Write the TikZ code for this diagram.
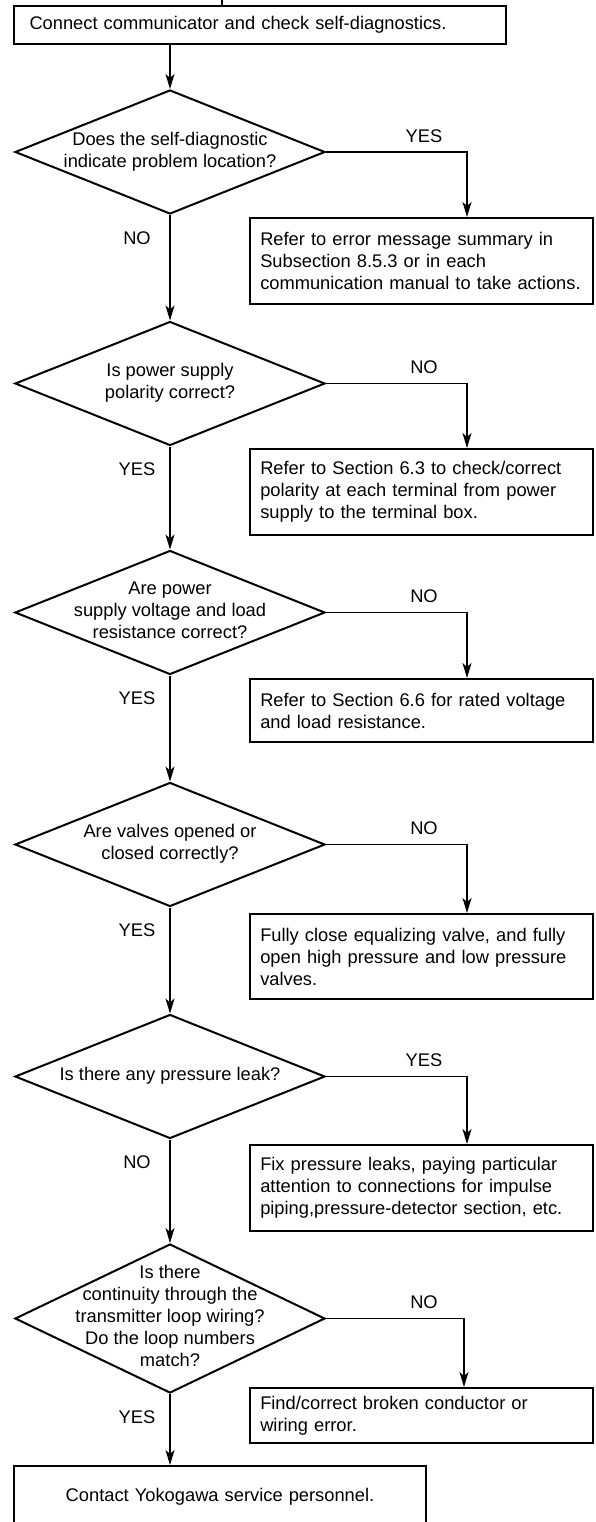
\documentclass[tikz,border=0pt]{standalone}
\usepackage{fontspec}
\setmainfont{Liberation Sans}
\usetikzlibrary{shapes.geometric,arrows.meta}
\newcommand{\dtxt}[1]{\makebox[0pt]{\begin{tabular}{@{}c@{}}#1\end{tabular}}}
\begin{document}
\begin{tikzpicture}[x=1pt, y=1pt, font=\fontsize{18.3}{22}\selectfont,
  >={Stealth[length=15pt,width=9pt,inset=4pt]},
  box/.style={draw, line width=2pt, anchor=north west, inner ysep=0pt},
  act/.style={box, text width=322pt, inner xsep=10.75pt, minimum height=86pt, align=left},
  ask/.style={draw, line width=2pt, diamond, minimum width=310pt, minimum height=124pt, inner sep=0pt},
  flow/.style={->, line width=1.1pt},
  lbl/.style={inner sep=0pt}]
\def \xc{170}
\def \xl{248.5}
\useasboundingbox (0,0) rectangle (595,-1522);
\coordinate (above) at (222,3);
\coordinate (drop) at (467,0);
\coordinate (dropb) at (464,0);
\node[box, text width=461pt, inner xsep=15.5pt, minimum height=38pt, align=left] (start) at (13,-5) {Connect communicator and check self-diagnostics.};
\node[ask] (d1) at (\xc,-152) {\dtxt{Does the self-diagnostic\\indicate problem location?}};
\node[act] (r1) at (\xl,-217) {Refer to error message summary in\\Subsection 8.5.3 or in each\\\mbox{communication manual to take actions.}};
\node[ask] (d2) at (\xc,-383.5) {\dtxt{Is power supply\\polarity correct?}};
\node[act] (r2) at (\xl,-448) {Refer to Section 6.3 to check/correct\\polarity at each terminal from power\\supply to the terminal box.};
\node[ask] (d3) at (\xc,-612.5) {\dtxt{Are power\\supply voltage and load\\resistance correct?}};
\node[act, minimum height=63pt] (r3) at (\xl,-678) {Refer to Section 6.6 for rated voltage\\and load resistance.};
\node[ask] (d4) at (\xc,-844.5) {\dtxt{Are valves opened or\\closed correctly?}};
\node[act, minimum height=85pt] (r4) at (\xl,-913) {Fully close equalizing valve, and fully\\open high pressure and low pressure\\valves.};
\node[ask] (d5) at (\xc,-1076.5) {\dtxt{Is there any pressure leak?}};
\node[act] (r5) at (\xl,-1144) {Fix pressure leaks, paying particular\\attention to connections for impulse\\piping,pressure-detector section, etc.};
\node[ask, minimum height=149pt] (d6) at (\xc,-1318.5) {\dtxt{Is there\\continuity through the\\transmitter loop wiring?\\Do the loop numbers\\match?}};
\node[act, minimum height=55pt] (r6) at (\xl,-1387) {Find/correct broken conductor or\\wiring error.};
\node[box, text width=380pt, inner xsep=16pt, minimum height=62pt, align=center] (stop) at (13,-1465) {Contact Yokogawa service personnel.};
\draw[line width=1.1pt] (above) -- (above |- start.north);
\draw[flow] (start.south -| d1.north) -- (d1.north);
\draw[flow] (d1.south) -- (d2.north);
\draw[flow] (d2.south) -- (d3.north);
\draw[flow] (d3.south) -- (d4.north);
\draw[flow] (d4.south) -- (d5.north);
\draw[flow] (d5.south) -- (d6.north);
\draw[flow] (d6.south) -- (d6.south |- stop.north);
\draw[flow] (d1.east) -| (r1.north -| drop);
\draw[flow] (d2.east) -| (r2.north -| drop);
\draw[flow] (d3.east) -| (r3.north -| drop);
\draw[flow] (d4.east) -| (r4.north -| drop);
\draw[flow] (d5.east) -| (r5.north -| drop);
\draw[flow] (d6.east) -| (r6.north -| dropb);
\node[lbl] (n1) at ([shift={(-33,-23)}]d1.south) {NO};
\node[lbl] (y2) at ([shift={(-33,-23)}]d2.south) {YES};
\node[lbl] (y3) at ([shift={(-33,-23)}]d3.south) {YES};
\node[lbl] (y4) at ([shift={(-33,-23)}]d4.south) {YES};
\node[lbl] (n5) at ([shift={(-33,-23)}]d5.south) {NO};
\node[lbl] (y6) at ([shift={(-33,-23)}]d6.south) {YES};
\node[lbl] (a1) at ([shift={(98,16)}]d1.east) {YES};
\node[lbl] (a2) at ([shift={(98,16)}]d2.east) {NO};
\node[lbl] (a3) at ([shift={(98,16)}]d3.east) {NO};
\node[lbl] (a4) at ([shift={(98,16)}]d4.east) {NO};
\node[lbl] (a5) at ([shift={(98,16)}]d5.east) {YES};
\node[lbl] (a6) at ([shift={(98,16)}]d6.east) {NO};
\end{tikzpicture}
\end{document}
